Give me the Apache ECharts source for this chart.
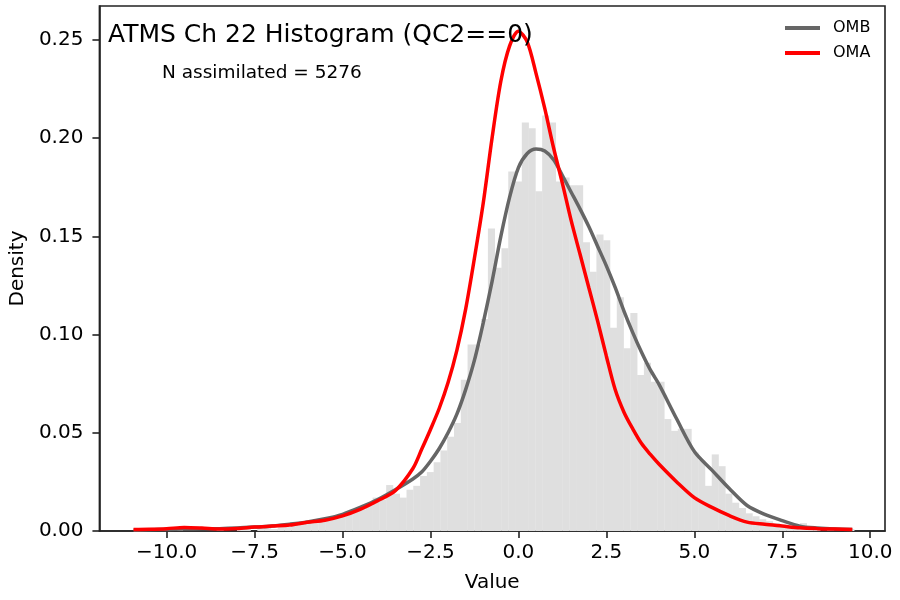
<!DOCTYPE html>
<html>
<head>
<meta charset="utf-8">
<script src="https://cdn.jsdelivr.net/npm/echarts@6/dist/echarts.min.js"></script>
<style>
  html, body { margin: 0; padding: 0; background: #fff; }
  #chart { width: 900px; height: 600px; }
</style>
</head>
<body>
<div id="chart"></div>
<script>
// histogram bins: equal width, first bin centred at histFirstCenter
const histBinWidth = 0.1928;
const histFirstCenter = -56 * 0.1928;
const histDensity = [
  // -10.8 ... -3.66
  0.001, 0, 0, 0, 0, 0, 0.001, 0, 0, 0, 0, 0, 0.001, 0, 0, 0.001, 0.002, 0, 0.001, 0.002,
  0.001, 0.002, 0.002, 0.003, 0.003, 0.004, 0.004, 0.005, 0.006, 0.007, 0.008, 0.009, 0.010, 0.011,
  0.013, 0.017, 0.016, 0.0234,
  // -3.47 ... -0.96
  0.019, 0.017, 0.021, 0.023, 0.028, 0.030, 0.035, 0.041, 0.048, 0.055, 0.077, 0.095, 0.095, 0.108,
  // -0.77 ... 1.74
  0.154, 0.134, 0.144, 0.183, 0.178, 0.208, 0.205, 0.173, 0.2115, 0.208, 0.178, 0.180, 0.176, 0.176,
  // 1.93 ... 4.82
  0.147, 0.132, 0.151, 0.148, 0.1035, 0.119, 0.093, 0.111, 0.0794, 0.0857, 0.076, 0.076, 0.057, 0.051,
  0.052, 0.052,
  // 5.01 ... 9.45
  0.040, 0.036, 0.023, 0.039, 0.033, 0.019, 0.0144, 0.0117, 0.009, 0.0075, 0.006, 0.005,
  0.004, 0.003, 0.002, 0.0015, 0.004, 0.001, 0.001, 0, 0.001, 0, 0, 0.001
];

// kernel density curves
const kdeX = [-10.94, -10.5, -10, -9.5, -9, -8.5, -8, -7.5, -7, -6.5, -6, -5.5, -5, -4.5, -4, -3.5, -3,
  -2.75, -2.5, -2.25, -2, -1.75, -1.5, -1.25, -1, -0.75, -0.5, -0.25, 0, 0.25, 0.5, 0.75, 1, 1.25, 1.5,
  1.75, 2, 2.25, 2.5, 2.75, 3, 3.25, 3.5, 3.75, 4, 4.5, 5, 5.5, 6, 6.5, 7, 7.5, 8, 8.5, 9, 9.49];
const ombDensity = [0.0004, 0.0006, 0.0008, 0.001, 0.0011, 0.0012, 0.0015, 0.002, 0.0026, 0.0035, 0.0046,
  0.0062, 0.0085, 0.012, 0.016, 0.021, 0.0265, 0.030, 0.0355, 0.042, 0.050, 0.0595, 0.072, 0.087, 0.106,
  0.127, 0.150, 0.170, 0.185, 0.1922, 0.1945, 0.1935, 0.189, 0.181, 0.1725, 0.164, 0.155, 0.145, 0.135,
  0.124, 0.112, 0.101, 0.091, 0.082, 0.0745, 0.057, 0.0405, 0.031, 0.0215, 0.013, 0.0085, 0.0053, 0.0025,
  0.0015, 0.001, 0.0008];
const omaDensity = [0.0008, 0.0009, 0.0012, 0.0018, 0.0015, 0.001, 0.0013, 0.002, 0.0025, 0.003, 0.0044,
  0.0055, 0.0077, 0.011, 0.0154, 0.0205, 0.0318, 0.0416, 0.0517, 0.0625, 0.0756, 0.092, 0.113, 0.139,
  0.167, 0.200, 0.229, 0.247, 0.2545, 0.249, 0.233, 0.215, 0.195, 0.177, 0.158, 0.141, 0.124, 0.107,
  0.089, 0.072, 0.0605, 0.052, 0.0445, 0.039, 0.034, 0.025, 0.017, 0.012, 0.0078, 0.0045, 0.0034, 0.0025,
  0.0016, 0.0012, 0.001, 0.0008];

const xTicks = [-10, -7.5, -5, -2.5, 0, 2.5, 5, 7.5, 10];
const yTicks = [0, 0.05, 0.1, 0.15, 0.2, 0.25];

const FONT = 'DejaVu Sans';
const fmtMinus = s => s.replace('-', '\u2212');

const histData = histDensity.map((d, i) => {
  const c = histFirstCenter + i * histBinWidth;
  return [c - histBinWidth / 2, c + histBinWidth / 2, d];
});

const chart = echarts.init(document.getElementById('chart'), null, { renderer: 'canvas' });
chart.setOption({
  animation: false,
  backgroundColor: '#fff',
  textStyle: { fontFamily: FONT },
  title: [
    { text: 'ATMS Ch 22 Histogram (QC2==0)', left: 103, top: 18,
      textStyle: { fontFamily: FONT, fontSize: 25, fontWeight: 'normal', color: '#000' } },
    { text: 'N assimilated = 5276', left: 157, top: 59,
      textStyle: { fontFamily: FONT, fontSize: 18.5, fontWeight: 'normal', color: '#000' } }
  ],
  legend: {
    orient: 'vertical', left: 780, top: 15, itemWidth: 35, itemHeight: 4, itemGap: 9,
    icon: 'path://M0,0 L35,0 L35,4 L0,4 Z',
    textStyle: { fontFamily: FONT, fontSize: 16, lineHeight: 16, color: '#000', padding: [0, 0, 0, 8] },
    data: ['OMB', 'OMA']
  },
  grid: { left: 96, right: 15, top: 6, bottom: 69, show: true, borderColor: '#222', borderWidth: 1.6,
    backgroundColor: 'transparent' },
  xAxis: {
    type: 'value', min: -11.91, max: 10.42,
    name: 'Value', nameLocation: 'middle', nameGap: 42,
    nameTextStyle: { fontFamily: FONT, fontSize: 20, color: '#000' },
    axisLine: { show: true, onZero: false, lineStyle: { color: '#222', width: 1.6 } },
    axisTick: { show: true, length: 7, customValues: xTicks, lineStyle: { color: '#222', width: 1.6 } },
    axisLabel: { customValues: xTicks, margin: 12, fontFamily: FONT, fontSize: 20, color: '#000',
      formatter: v => fmtMinus(v.toFixed(1)) },
    splitLine: { show: false }
  },
  yAxis: {
    type: 'value', min: 0, max: 0.2673,
    name: 'Density', nameLocation: 'middle', nameGap: 70, nameRotate: 90,
    nameTextStyle: { fontFamily: FONT, fontSize: 20, color: '#000' },
    axisLine: { show: true, onZero: false, lineStyle: { color: '#222', width: 1.6 } },
    axisTick: { show: true, length: 7, customValues: yTicks, lineStyle: { color: '#222', width: 1.6 } },
    axisLabel: { customValues: yTicks, margin: 16, fontFamily: FONT, fontSize: 20, color: '#000',
      formatter: v => v.toFixed(2) },
    splitLine: { show: false }
  },
  series: [
    {
      type: 'custom',
      name: 'hist',
      data: histData,
      encode: { x: [0, 1], y: 2 },
      z: 1,
      renderItem: (params, api) => {
        const p0 = api.coord([api.value(0), api.value(2)]);
        const p1 = api.coord([api.value(1), 0]);
        return {
          type: 'rect',
          shape: { x: p0[0], y: p0[1], width: p1[0] - p0[0] + 0.3, height: p1[1] - p0[1] },
          style: { fill: '#dfdfdf' }
        };
      }
    },
    {
      type: 'line', name: 'OMB', showSymbol: false, smooth: 0.3, z: 3,
      data: kdeX.map((x, i) => [x, ombDensity[i]]),
      itemStyle: { color: '#666666' },
      lineStyle: { color: '#666666', width: 3.5 }
    },
    {
      type: 'line', name: 'OMA', showSymbol: false, smooth: 0.3, z: 4,
      data: kdeX.map((x, i) => [x, omaDensity[i]]),
      itemStyle: { color: '#ff0000' },
      lineStyle: { color: '#ff0000', width: 3.5 }
    }
  ]
});
</script>
</body>
</html>
